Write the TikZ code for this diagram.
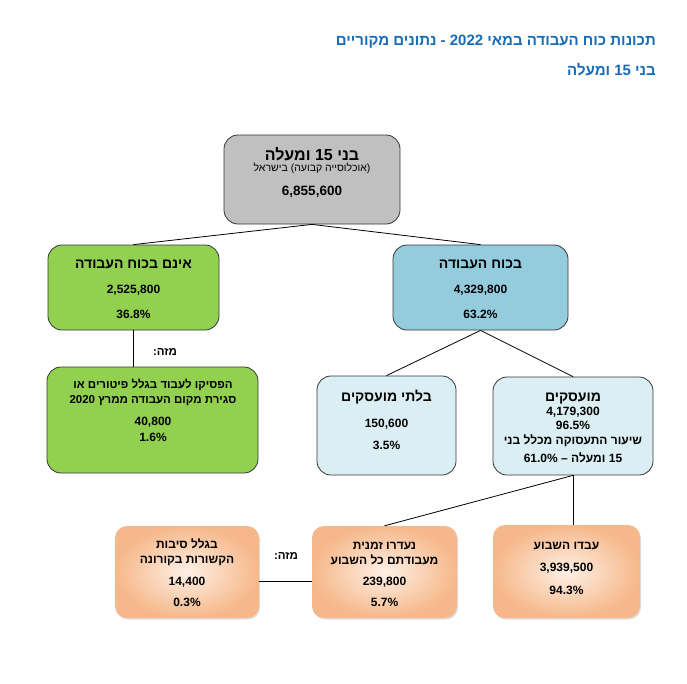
\documentclass[tikz,border=0pt]{standalone}
\usepackage{fontspec}
\setmainfont{Liberation Sans}[Script=Hebrew]
\TeXXeTstate=1
\usetikzlibrary{shadows}
\newcommand{\rl}[1]{\beginR #1\endR}
\definecolor{ttlc}{RGB}{23,109,181}
\definecolor{bordc}{RGB}{55,55,55}
\definecolor{grayf}{RGB}{192,192,192}
\definecolor{greenf}{RGB}{146,208,80}
\definecolor{bluef}{RGB}{147,205,221}
\definecolor{lbluef}{RGB}{219,238,244}
\definecolor{orin}{RGB}{254,240,230}
\definecolor{orout}{RGB}{246,184,138}
\begin{document}
\begin{tikzpicture}[x=1pt,y=-1pt,
  box/.style={draw=bordc, line width=0.8pt, rounded corners=14pt, inner sep=0pt},
  graybox/.style={box, fill=grayf},
  greenbox/.style={box, fill=greenf},
  bluebox/.style={box, fill=bluef},
  lbluebox/.style={box, fill=lbluef},
  orbox/.style={inner sep=0pt, rounded corners=12pt, shading=radial, inner color=orin, outer color=orout,
     drop shadow={shadow xshift=1pt, shadow yshift=-1.5pt, opacity=0.25}},
  hb/.style={inner sep=0pt, anchor=base, font=\bfseries\fontsize{#1}{#1}\selectfont},
  hr/.style={inner sep=0pt, anchor=base, font=\fontsize{#1}{#1}\selectfont},
  ttl/.style={inner sep=0pt, anchor=base east, text=ttlc, font=\bfseries\fontsize{15}{15}\selectfont},
  conn/.style={draw=black, line width=0.8pt}
]
\useasboundingbox[fill=white] (0,0) rectangle (687,683);

% titles
\node[ttl] (t1) at (656,45) {\rl{תכונות כוח העבודה במאי 2022 - נתונים מקוריים}};
\node[ttl] (t2) at (656,75) {\rl{בני 15 ומעלה}};

% boxes
\node[graybox, minimum width=176pt, minimum height=89pt] (pop) at (312,179.5) {};
\node[greenbox, minimum width=171pt, minimum height=85pt] (nlf) at (133.5,287.5) {};
\node[bluebox, minimum width=175pt, minimum height=85pt] (lf) at (480.5,287.5) {};
\node[greenbox, minimum width=211pt, minimum height=106pt] (stop) at (152.5,420) {};
\node[lbluebox, minimum width=139pt, minimum height=99pt] (unemp) at (386.5,425.5) {};
\node[lbluebox, minimum width=160pt, minimum height=98pt] (emp) at (573,426) {};
\node[orbox, minimum width=144pt, minimum height=92pt] (cov) at (187,572) {};
\node[orbox, minimum width=145pt, minimum height=92pt] (abs) at (384.5,572) {};
\node[orbox, minimum width=147pt, minimum height=93pt] (work) at (566.5,571.5) {};

% connectors
\draw[conn] (pop.south) -- (nlf.north);
\draw[conn] (pop.south) -- (lf.north);
\draw[conn] (nlf.south) -- (nlf.south |- stop.north);
\draw[conn] (lf.south) -- (unemp.north);
\draw[conn] (lf.south) -- (emp.north);
\draw[conn] (emp.south) -- (emp.south |- work.north);
\draw[conn] (emp.south) -- (abs.north);
\draw[conn] ([yshift=-9pt]cov.east) -- ([yshift=-9pt]abs.west);

% population box texts
\node[hb=16] (popA) at (312,160.5) {\rl{בני 15 ומעלה}};
\node[hr=10.5] (popB) at (312,171.5) {\rl{(אוכלוסייה קבועה) בישראל}};
\node[hb=13.5] (popC) at (312,195) {6,855,600};

% not in labour force
\node[hb=14] (nlfA) at (133.5,268.5) {\rl{אינם בכוח העבודה}};
\node[hb=12] (nlfB) at (133.5,293.3) {2,525,800};
\node[hb=12] (nlfC) at (133.5,318.3) {36.8\%};

% labour force
\node[hb=14] (lfA) at (480.5,268.5) {\rl{בכוח העבודה}};
\node[hb=12] (lfB) at (480.5,293.3) {4,329,800};
\node[hb=12] (lfC) at (480.5,318.3) {63.2\%};

% of which
\node[hb=11.5] (ofA) at (165,355.7) {\rl{מזה:}};
\node[hb=11.5] (ofB) at (286,559.7) {\rl{מזה:}};

% stopped working
\node[hb=11.5] (stopA) at (153,388.7) {\rl{הפסיקו לעבוד בגלל פיטורים או}};
\node[hb=11.5] (stopB) at (153,403.7) {\rl{סגירת מקום העבודה ממרץ 2020}};
\node[hb=12] (stopC) at (153,425.3) {40,800};
\node[hb=12] (stopD) at (153,441.3) {1.6\%};

% unemployed
\node[hb=14] (unA) at (386.5,401.5) {\rl{בלתי מועסקים}};
\node[hb=12] (unB) at (386.5,427.3) {150,600};
\node[hb=12] (unC) at (386.5,449.3) {3.5\%};

% employed
\node[hb=14] (empA) at (573,401.5) {\rl{מועסקים}};
\node[hb=12] (empB) at (573,415.3) {4,179,300};
\node[hb=12] (empC) at (573,429.3) {96.5\%};
\node[hb=12] (empD) at (573,444.8) {\rl{שיעור התעסוקה מכלל בני}};
\node[hb=12] (empE) at (573,462) {\rl{15 ומעלה – 61.0\%}};

% covid
\node[hb=12] (covA) at (187,548) {\rl{בגלל סיבות}};
\node[hb=12] (covB) at (187,563) {\rl{הקשורות בקורונה}};
\node[hb=12] (covC) at (187,585.3) {14,400};
\node[hb=12] (covD) at (187,606.3) {0.3\%};

% temporarily absent
\node[hb=12] (absA) at (384.5,549) {\rl{נעדרו זמנית}};
\node[hb=12] (absB) at (384.5,564) {\rl{מעבודתם כל השבוע}};
\node[hb=12] (absC) at (384.5,585.3) {239,800};
\node[hb=12] (absD) at (384.5,606.3) {5.7\%};

% worked
\node[hb=12] (workA) at (566.5,549) {\rl{עבדו השבוע}};
\node[hb=12] (workB) at (566.5,571.3) {3,939,500};
\node[hb=12] (workC) at (566.5,594.3) {94.3\%};
\end{tikzpicture}
\end{document}
